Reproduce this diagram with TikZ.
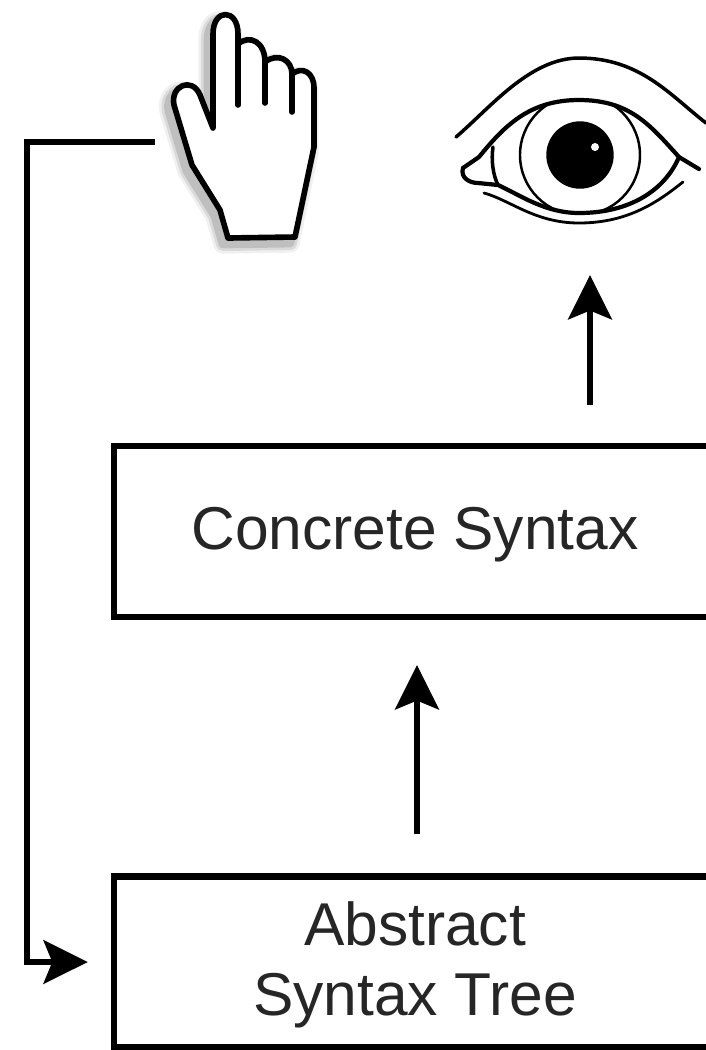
\documentclass[tikz,border=0pt]{standalone}
\usepackage{fontspec}
\setmainfont{Liberation Sans}
\usetikzlibrary{arrows.meta,calc}
\tikzset{
	layerbox/.style={draw=black, line width=1.8pt, inner sep=0pt, outer sep=0pt, minimum width=6.02cm, minimum height=1.71cm, align=center, text=black!85, text depth=2pt, font=\fontsize{17.2}{20}\selectfont},
	flowline/.style={line width=1.7pt, color=black, -{Stealth[length=12.6pt, width=12.4pt, inset=2.5pt]}},
	handline/.style={line width=1.6pt, color=black, line join=round, line cap=round},
	eyeline/.style={line width=1pt, color=black, line join=round, line cap=round}
}
\def\handoutline{(213,128) -- (213,34) .. controls (213,8) and (238,8) .. (238,34) -- (238,44) .. controls (250,34) and (265,42) .. (265,62) .. controls (278,52) and (292,60) .. (292,74) .. controls (302,66) and (314,72) .. (314,88) -- (314,147) -- (295,237) -- (228,238) -- (220,210) -- (192,165) -- (174,105) .. controls (170,86) and (192,76) .. (200,95) -- cycle}

\begin{document}
\begin{tikzpicture}[x=0.01cm, y=-0.01cm]
		%%%%% START %%%%%
		\useasboundingbox (0, 0) rectangle (706, 1050);
		\clip (0, 0) rectangle (706, 1050);
		
		\node[layerbox] (concrete) at (415, 531.5) {Concrete Syntax};
		\node[layerbox] (ast) at (415, 962) {Abstract\\Syntax Tree};
		
		% hand
		\foreach \w/\o in {5.5/0.06, 4/0.09, 2.5/0.12}
			\draw[line width=\w pt, color=black, opacity=\o, line join=round, shift={(-5, 6)}] \handoutline;
		\draw[handline, fill=white] \handoutline;
		\draw[handline] (238, 44) -- (238, 105);
		\draw[handline] (265, 62) -- (265, 103);
		\draw[handline] (292, 74) -- (292, 112);
		
		% eye
		\draw[eyeline] (456, 137) .. controls (490, 108) and (530, 58) .. (579, 58) .. controls (640, 58) and (670, 95) .. (706, 123);
		\begin{scope}
			\clip (479, 157) .. controls (505, 125) and (530, 100) .. (579, 100) .. controls (630, 100) and (650, 125) .. (679, 157) .. controls (665, 190) and (630, 213) .. (579, 213) .. controls (545, 213) and (520, 195) .. (498, 185) -- cycle;
			\draw[eyeline, line width=0.7pt] (580, 155) circle (60);
		\end{scope}
		\draw[eyeline, line width=1.2pt] (463, 168) -- (479, 157) .. controls (505, 125) and (530, 100) .. (579, 100) .. controls (630, 100) and (650, 125) .. (679, 157) -- (699, 169);
		\draw[eyeline, line width=1.2pt] (463, 168) .. controls (460, 178) and (470, 183) .. (478, 183) -- (498, 185) .. controls (520, 195) and (545, 213) .. (579, 213) .. controls (630, 213) and (665, 190) .. (679, 157);
		\draw[eyeline] (493, 147) .. controls (491, 160) and (493, 175) .. (498, 185);
		\draw[eyeline, line width=0.8pt] (484, 193) .. controls (510, 200) and (535, 223) .. (579, 223) .. controls (630, 223) and (660, 200) .. (683, 182);
		\draw[fill=black] (580, 155) circle (33);
		\draw[fill=white, draw=none] (595, 147) circle (4);
		
		% connectors
		\coordinate (handend) at (155, 142);
		\coordinate (eyeend) at (590, 275);
		\draw[flowline] (handend) -- (27, 142) -- (27, 962) -- ($(ast.west)+(-26, 0)$);
		\draw[flowline] ($(ast.north)+(2, -42)$) -- ($(concrete.south)+(2, 48)$);
		\draw[flowline] ($(concrete.north)+(175, -41)$) -- (eyeend);
		
		%%%%% END %%%%%
	\end{tikzpicture}
\end{document}
